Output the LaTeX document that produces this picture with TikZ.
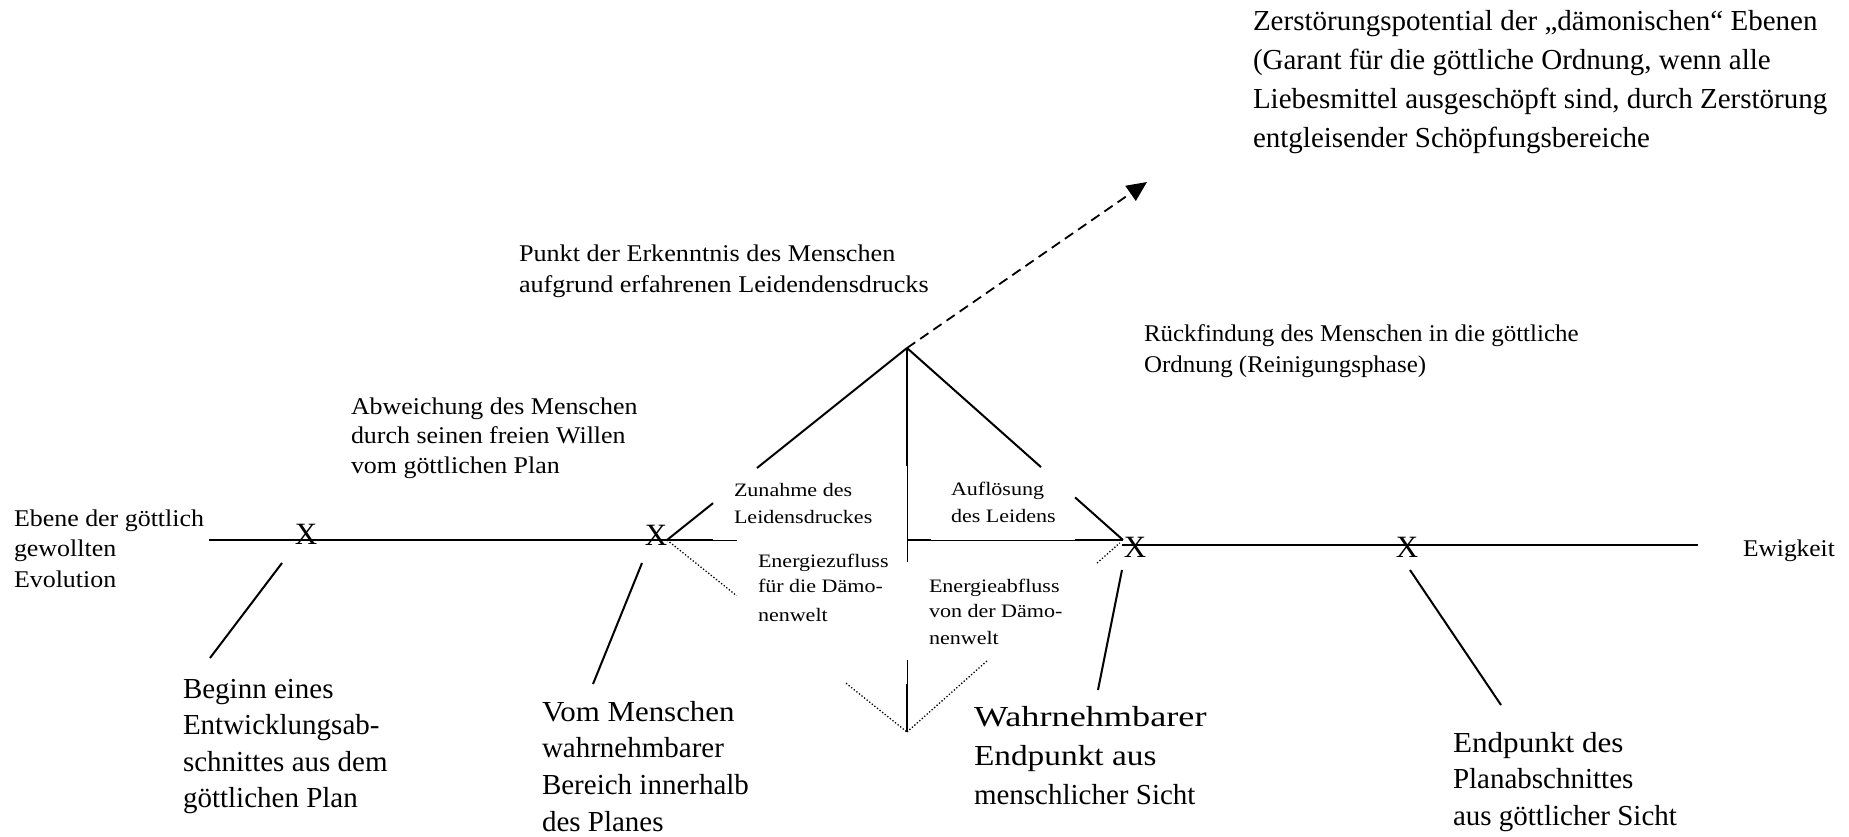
\documentclass[tikz,border=0pt]{standalone}
\usepackage{fontspec}
\setmainfont{Liberation Serif}
\usetikzlibrary{calc,arrows.meta}
\newcommand{\lbl}[2]{\scalebox{#1}[1]{\begin{tabular}[t]{@{}l@{}}#2\end{tabular}}}
\newcommand{\wline}[2]{\scalebox{#1}[1]{#2}}
\begin{document}
\begin{tikzpicture}[x=1pt,y=-1pt,
  thickln/.style={line width=2pt},
  thinln/.style={line width=0.8pt},
  dotln/.style={line width=1.3pt, dash pattern=on 1.3pt off 2pt},
  txt/.style={anchor=base west, inner sep=0pt, outer sep=0pt},
  bigtxt/.style={txt, font=\fontsize{29}{36.5}\selectfont},
  midtxt/.style={txt, font=\fontsize{24}{30}\selectfont},
  smalltxt/.style={txt, font=\fontsize{19}{26}\selectfont},
  xmark/.style={inner sep=0pt, font=\fontsize{31}{31}\selectfont}]
\useasboundingbox (0,0) rectangle (1849,836);

% key points
\coordinate (P) at (907,348);
\coordinate (J1) at (667,540);
\coordinate (J2) at (1123,540);
\coordinate (B) at (907,732);
\coordinate (T) at (1147,182);
\coordinate (L0) at (209,540);
\coordinate (R0) at (1122,545);
\coordinate (R1) at (1698,545);

% main line
\draw[thickln] (L0) -- (713,540);
\draw[thinln] (713,540) -- (737,540);
\draw[thickln] (907,540) -- (931,540);
\draw[thinln] (931,540) -- (1075,540);
\draw[thickln] (1075,540) -- (J2);
\draw[thickln] (R0) -- (R1);

% upper diamond
\draw[thickln] (J1) -- ($(J1)!0.192!(P)$);
\draw[thickln] ($(J1)!0.375!(P)$) -- (P);
\draw[thickln] (P) -- ($(P)!0.62!(J2)$);
\draw[thickln] ($(P)!0.778!(J2)$) -- (J2);

% vertical
\draw[thickln] (P) -- ($(P)!0.307!(B)$);
\draw[thinln] ($(P)!0.307!(B)$) -- ($(P)!0.557!(B)$);
\draw[thinln] ($(P)!0.8125!(B)$) -- ($(P)!0.875!(B)$);
\draw[thickln] ($(P)!0.875!(B)$) -- (B);

% lower dotted diamond
\draw[dotln] (J1) -- ($(J1)!0.29!(B)$);
\draw[dotln] ($(J1)!0.746!(B)$) -- (B);
\draw[dotln] (B) -- ($(B)!0.375!(J2)$);
\draw[dotln] ($(B)!0.88!(J2)$) -- ($(B)!0.985!(J2)$);

% dashed arrow
\draw[line width=1.8pt, dash pattern=on 10pt off 6pt, -{Triangle[length=20pt,width=18pt]}] (P) -- (T);

% X marks
\node[xmark] (x1) at (306,534) {X};
\node[xmark] (x2) at (656,535) {X};
\node[xmark] (x3) at (1135,547) {X};
\node[xmark] (x4) at (1407,547) {X};

% pointer lines
\coordinate (p1) at (210,658);
\coordinate (p2) at (593,684);
\coordinate (p3) at (1098,690);
\coordinate (p4) at (1501,705);
\draw[thickln] ($(x1)+(-24,29)$) -- (p1);
\draw[thickln] ($(x2)+(-14,28)$) -- (p2);
\draw[thickln] ($(x3)+(-13,23)$) -- (p3);
\draw[thickln] ($(x4)+(3,23)$) -- (p4);

% texts
\node[bigtxt, font=\fontsize{29}{39}\selectfont] (zer) at (1253,30) {\lbl{1}{Zerstörungspotential der „dämonischen“ Ebenen\\(Garant für die göttliche Ordnung, wenn alle\\Liebesmittel ausgeschöpft sind, durch Zerstörung\\entgleisender Schöpfungsbereiche}};

\node[midtxt, font=\fontsize{24}{31.5}\selectfont] (punkt) at (519,261) {\lbl{1.09}{Punkt der Erkenntnis des Menschen\\aufgrund erfahrenen Leidendensdrucks}};

\node[midtxt, font=\fontsize{24}{31.5}\selectfont] (rueck) at (1144,341) {\lbl{1.04}{Rückfindung des Menschen in die göttliche\\Ordnung (Reinigungsphase)}};

\node[midtxt, font=\fontsize{24}{29.5}\selectfont] (abw) at (351,414) {\lbl{1.08}{Abweichung des Menschen\\durch seinen freien Willen\\vom göttlichen Plan}};

\node[midtxt, font=\fontsize{24}{30.5}\selectfont] (ebene) at (14,526) {\lbl{1.08}{Ebene der göttlich\\gewollten\\Evolution}};

\node[midtxt] (ewig) at (1743,556) {\lbl{1.06}{Ewigkeit}};

\node[smalltxt, font=\fontsize{19}{27}\selectfont] (zun) at (734,496) {\lbl{1.16}{Zunahme des\\Leidensdruckes}};
\node[smalltxt, font=\fontsize{19}{27}\selectfont] (aufl) at (951,495) {\lbl{1.16}{Auflösung\\des Leidens}};
\node[smalltxt, font=\fontsize{19}{25}\selectfont] (ezu) at (758,567) {\lbl{1.16}{Energiezufluss\\für die Dämo-\\[4pt]nenwelt}};
\node[smalltxt, font=\fontsize{19}{25}\selectfont] (eab) at (929,592) {\lbl{1.16}{Energieabfluss\\von der Dämo-\\[2pt]nenwelt}};

\node[bigtxt] (beg) at (183,698) {\lbl{1}{Beginn eines\\Entwicklungsab-\\schnittes aus dem\\göttlichen Plan}};
\node[bigtxt, font=\fontsize{29}{36.7}\selectfont] (vom) at (542,721) {\lbl{1}{\wline{1.066}{Vom Menschen}\\wahrnehmbarer\\Bereich innerhalb\\des Planes}};
\node[bigtxt, font=\fontsize{29}{39}\selectfont] (wahr) at (974,726) {\lbl{1}{\wline{1.25}{Wahrnehmbarer}\\\wline{1.15}{Endpunkt aus}\\menschlicher Sicht}};
\node[bigtxt] (endp) at (1453,752) {\lbl{1}{\wline{1.075}{Endpunkt des}\\Planabschnittes\\aus göttlicher Sicht}};
\end{tikzpicture}
\end{document}
